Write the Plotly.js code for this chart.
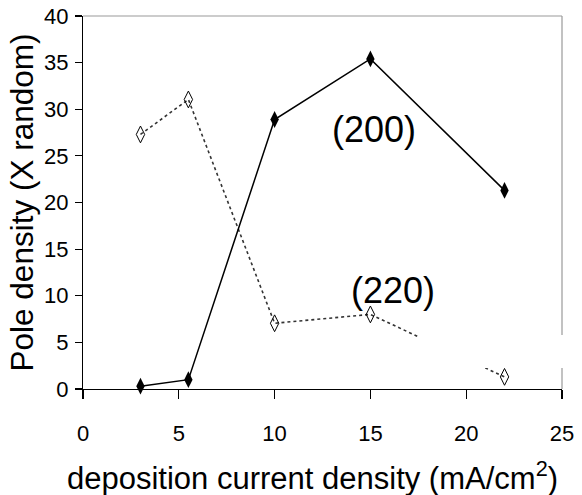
<!DOCTYPE html>
<html>
<head>
<meta charset="utf-8">
<script src="https://cdn.plot.ly/plotly-3.0.1.min.js"></script>
<style>html,body{margin:0;padding:0;background:#fff;}#chart{width:582px;height:495px;}</style>
</head>
<body>
<div id="chart"></div>
<script>
// Data
const currentDensity = [3, 5.5, 10, 15, 22];
const pole200 = [0.3, 1.0, 28.9, 35.4, 21.3];
const pole220 = [27.3, 31.05, 7.05, 8.0, 1.3];
const xTickVals = [0, 5, 10, 15, 20, 25];
const yTickVals = [0, 5, 10, 15, 20, 25, 30, 35, 40];
const seriesLabels = ["(200)", "(220)"];
const xTitle = 'deposition current density (mA/cm<sup>2</sup>)';
const yTitle = 'Pole density (X random)';

const traces = [
  {
    x: currentDensity, y: pole220, type: 'scatter', mode: 'lines+markers',
    line: {color: '#333333', width: 1.6, dash: 'dot'},
    marker: {symbol: 'diamond-tall-open', size: 12, color: '#000', line: {color: '#000', width: 1}},
    showlegend: false, cliponaxis: false
  },
  {
    x: currentDensity, y: pole200, type: 'scatter', mode: 'lines+markers',
    line: {color: '#000', width: 1.5},
    marker: {symbol: 'diamond-tall', size: 12, color: '#000'},
    showlegend: false, cliponaxis: false
  }
];

const tickFont = {family: '"Liberation Sans Narrow", "Arial Narrow", sans-serif', size: 22, color: '#000'};
const xTitleFont = {family: '"Liberation Sans", Arial, sans-serif', size: 31, color: '#000'};
const yTitleFont = {family: '"Liberation Sans", Arial, sans-serif', size: 31.5, color: '#000'};

const layout = {
  width: 582, height: 495,
  margin: {l: 83, r: 20, t: 16, b: 106},
  paper_bgcolor: '#fff', plot_bgcolor: '#fff',
  xaxis: {
    range: [0, 25], tickvals: xTickVals, ticktext: xTickVals.map(String),
    showgrid: false, zeroline: false, showline: true, linecolor: '#000', linewidth: 1.2,
    ticks: 'outside', ticklen: 9, tickcolor: '#000', tickwidth: 1.2,
    tickfont: tickFont, ticklabelstandoff: 15,
    fixedrange: true
  },
  yaxis: {
    range: [0, 40], tickvals: yTickVals, ticktext: yTickVals.map(String),
    showgrid: false, zeroline: false, showline: true, linecolor: '#000', linewidth: 1.2,
    ticks: 'outside', ticklen: 7, tickcolor: '#000', tickwidth: 1.2,
    tickfont: tickFont, ticklabelstandoff: 2,
    title: {text: yTitle, font: yTitleFont, standoff: 0},
    fixedrange: true
  },
  shapes: [
    {type: 'line', xref: 'paper', yref: 'paper', x0: 0, x1: 1, y0: 1, y1: 1, line: {color: '#999', width: 1.2}, layer: 'below'},
    {type: 'line', xref: 'paper', yref: 'paper', x0: 1, x1: 1, y0: 0, y1: 1, line: {color: '#999', width: 1.2}, layer: 'below'},
    {type: 'rect', xref: 'paper', yref: 'y', x0: 0.7, x1: 1.03, y0: 2.25, y1: 5.8, fillcolor: '#fff', line: {width: 0}, layer: 'above'}
  ],
  annotations: [
    {x: 0.48, y: 0, xref: 'paper', yref: 'paper', xanchor: 'center', yanchor: 'middle', yshift: -87,
     text: xTitle, showarrow: false, font: xTitleFont},
    {x: 15.2, y: 27.8, xref: 'x', yref: 'y', text: seriesLabels[0], showarrow: false, font: {family: '"Liberation Sans", Arial, sans-serif', size: 36, color: '#000'}},
    {x: 16.17, y: 10.6, xref: 'x', yref: 'y', text: seriesLabels[1], showarrow: false, font: {family: '"Liberation Sans", Arial, sans-serif', size: 36, color: '#000'}}
  ]
};

Plotly.newPlot('chart', traces, layout, {displayModeBar: false, staticPlot: true});
</script>
</body>
</html>
